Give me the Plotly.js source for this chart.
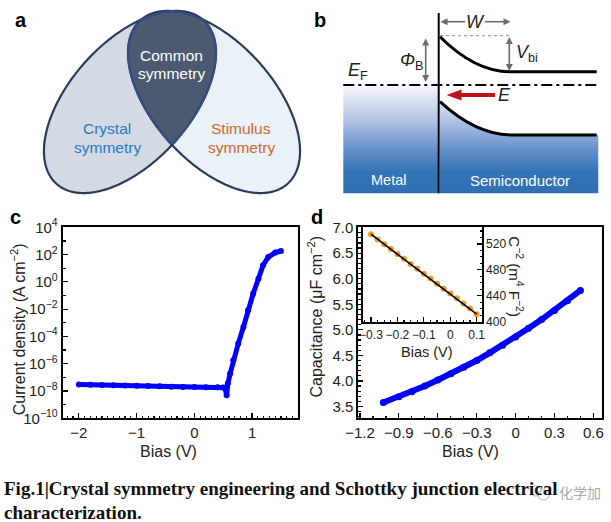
<!DOCTYPE html>
<html><head><meta charset="utf-8">
<script src="https://cdn.plot.ly/plotly-3.0.1.min.js"></script>
<style>html,body{margin:0;padding:0;background:#fff}#chart{width:611px;height:522px}</style>
</head><body><div id="chart"></div>
<script>
// ---------- Panel c : current density vs bias ----------
const jvBias = [-2.0,-1.8,-1.6,-1.4,-1.2,-1.0,-0.8,-0.6,-0.4,-0.2,0.0,0.2,0.4,0.5,0.53,0.56,0.58,0.62,0.675,0.76,0.85,0.93,1.02,1.11,1.19,1.28,1.40,1.50];
const jvDensity = [3.0e-8,2.9e-8,2.75e-8,2.6e-8,2.5e-8,2.4e-8,2.3e-8,2.2e-8,2.05e-8,2.0e-8,1.95e-8,1.9e-8,1.85e-8,1.8e-8,1.75e-8,4.8e-9,3.5e-8,1.9e-7,1.8e-6,3.0e-5,5.0e-4,8.3e-3,0.14,1.7,16.6,66,141,182];
const jTickVals = [1e-10,1e-8,1e-6,1e-4,1e-2,1,1e2,1e4];
const jTickText = ['10<sup>−10</sup>','10<sup>−8</sup>','10<sup>−6</sup>','10<sup>−4</sup>','10<sup>−2</sup>','10<sup>0</sup>','10<sup>2</sup>','10<sup>4</sup>'];
const jMinorVals = [1e-9,1e-7,1e-5,1e-3,1e-1,1e1,1e3];

// ---------- Panel d : capacitance vs bias ----------
const cvBias = [-1.02,-0.9,-0.8,-0.7,-0.6,-0.5,-0.4,-0.3,-0.2,-0.1,0.0,0.1,0.2,0.3,0.4,0.5];
const cvCap  = [3.58,3.69,3.79,3.90,4.02,4.14,4.27,4.40,4.55,4.70,4.86,5.03,5.20,5.38,5.57,5.77];

// ---------- Inset : C^-2 vs bias ----------
const mottBias = [-0.3,-0.275,-0.25,-0.225,-0.2,-0.175,-0.15,-0.125,-0.1,-0.075,-0.05,-0.025,0.0,0.025,0.05,0.075,0.1];
const mottInvC2 = [535,527,519.5,512,504.5,497,489,481.5,474,466.5,458.5,451,443.5,436,428,420.5,411.5];
const fitBias = [-0.3, 0.1];
const fitInvC2 = [535, 411.5];

// ---------- page geometry helpers (pixels -> paper) ----------
const W = 611, H = 522;
const px = v => v / W;
const py = v => 1 - v / H;
const FONT = 'Liberation Sans, Arial, Helvetica, sans-serif';

// ---------- panel a geometry ----------
function ellipsePts(cx, cy, a, b, deg, n) {
  const t = deg * Math.PI / 180, pts = [];
  for (let i = 0; i < n; i++) {
    const s = 2 * Math.PI * i / n, p = a * Math.cos(s), q = b * Math.sin(s);
    pts.push([cx + p * Math.cos(t) - q * Math.sin(t), cy - (p * Math.sin(t) + q * Math.cos(t))]);
  }
  return pts;
}
function insideEll(pt, e) {
  const t = e.deg * Math.PI / 180, X = pt[0] - e.cx, Y = -(pt[1] - e.cy);
  const p = X * Math.cos(t) + Y * Math.sin(t), q = -X * Math.sin(t) + Y * Math.cos(t);
  return p * p / (e.a * e.a) + q * q / (e.b * e.b) <= 1;
}
const toPath = pts => 'M' + pts.map(p => p[0].toFixed(2) + ',' + p[1].toFixed(2)).join(' L') + ' Z';
const ellL = {cx: 130, cy: 102, a: 110, b: 60, deg: 48};
const ellR = {cx: 214, cy: 102, a: 110, b: 60, deg: 132};
const ptsL = ellipsePts(ellL.cx, ellL.cy, ellL.a, ellL.b, ellL.deg, 360);
const ptsR = ellipsePts(ellR.cx, ellR.cy, ellR.a, ellR.b, ellR.deg, 360);
let lens = ptsL.filter(p => insideEll(p, ellR)).concat(ptsR.filter(p => insideEll(p, ellL)));
const lc = lens.reduce((s, p) => [s[0] + p[0] / lens.length, s[1] + p[1] / lens.length], [0, 0]);
lens.sort((u, v) => Math.atan2(u[1] - lc[1], u[0] - lc[0]) - Math.atan2(v[1] - lc[1], v[0] - lc[0]));

// ---------- panel b geometry ----------
function quadPts(p0, p1, p2, n) {
  const out = [];
  for (let i = 0; i <= n; i++) {
    const t = i / n, u = 1 - t;
    out.push([u*u*p0[0] + 2*u*t*p1[0] + t*t*p2[0], u*u*p0[1] + 2*u*t*p1[1] + t*t*p2[1]]);
  }
  return out;
}
const ifaceX = 438.7, bTop = 85, bBot = 193.3, bLeft = 343.3, bRight = 598.3;
const lowBand = quadPts([440, 101.7], [476, 135], [512, 135], 30);
const semiPoly = lowBand.concat([[bRight, 135], [bRight, bBot], [440, bBot]]);
const blueScale = [[0, '#f6f8fc'], [0.3, '#b7c8e7'], [0.62, '#5f8cc8'], [0.8, '#3574b7'], [1, '#2f6fb2']];

const traces = [
  {type: 'scatter', mode: 'lines', xaxis: 'x4', yaxis: 'y4', hoverinfo: 'skip', showlegend: false,
   x: [bLeft, ifaceX, ifaceX, bLeft], y: [bTop, bTop, bBot, bBot], fill: 'toself', line: {width: 0},
   fillgradient: {type: 'vertical', colorscale: blueScale, start: bTop, stop: bBot}},
  {type: 'scatter', mode: 'lines', xaxis: 'x4', yaxis: 'y4', hoverinfo: 'skip', showlegend: false,
   x: semiPoly.map(p => p[0]), y: semiPoly.map(p => p[1]), fill: 'toself', line: {width: 0},
   fillgradient: {type: 'vertical', colorscale: blueScale, start: bTop, stop: bBot}},
  {type: 'scatter', mode: 'lines+markers', x: jvBias, y: jvDensity, xaxis: 'x', yaxis: 'y',
   line: {color: '#0000ff', width: 5}, marker: {color: '#0000ff', size: 6}, showlegend: false, cliponaxis: false},
  {type: 'scatter', mode: 'lines+markers', x: cvBias, y: cvCap, xaxis: 'x2', yaxis: 'y2',
   line: {color: '#0000ff', width: 6}, marker: {color: '#0000ff', size: 7}, showlegend: false, cliponaxis: false},
  {type: 'scatter', mode: 'markers', x: mottBias, y: mottInvC2, xaxis: 'x3', yaxis: 'y3',
   marker: {color: '#f39a2e', size: 6}, showlegend: false, cliponaxis: false},
  {type: 'scatter', mode: 'lines', x: fitBias, y: fitInvC2, xaxis: 'x3', yaxis: 'y3',
   line: {color: '#000', width: 1.6}, showlegend: false, cliponaxis: false}
];

const shapes = [];
const S = (o) => shapes.push(Object.assign({xref: 'x4', yref: 'y4'}, o));
// arrow drawn as a shaft line plus a filled triangular head
function arrow(x0, y0, x1, y1, color, width, hl, hw, both) {
  const L = Math.hypot(x1 - x0, y1 - y0), ux = (x1 - x0) / L, uy = (y1 - y0) / L;
  const head = (tx, ty, dx, dy) => {
    const bx = tx - dx * hl, by = ty - dy * hl;
    S({type: 'path', path: `M${tx},${ty} L${bx - dy * hw / 2},${by + dx * hw / 2} L${bx + dy * hw / 2},${by - dx * hw / 2} Z`,
       fillcolor: color, line: {width: 0}});
  };
  const sx = both ? x0 + ux * hl * 0.8 : x0, sy = both ? y0 + uy * hl * 0.8 : y0;
  S({type: 'line', x0: sx, y0: sy, x1: x1 - ux * hl * 0.8, y1: y1 - uy * hl * 0.8, line: {color: color, width: width}});
  head(x1, y1, ux, uy);
  if (both) head(x0, y0, -ux, -uy);
}
// panel a
S({type: 'path', path: toPath(ptsL), fillcolor: '#d3dae3', line: {width: 0}});
S({type: 'path', path: toPath(ptsR), fillcolor: '#ebf1f8', line: {width: 0}});
S({type: 'path', path: toPath(lens), fillcolor: '#4b5a71', line: {width: 0}});
S({type: 'path', path: toPath(ptsL), line: {color: '#2b3b5a', width: 2.2}});
S({type: 'path', path: toPath(ptsR), line: {color: '#2b3b5a', width: 2.2}});
S({type: 'path', path: toPath(lens), line: {color: '#33508c', width: 1.6}});
// panel b
S({type: 'line', x0: 440, x1: 510, y0: 35.7, y1: 35.7, line: {color: '#8a8a8a', width: 1, dash: 'dot'}});
S({type: 'path', path: 'M440,36.7 Q475,71.7 510,71.7 L596.7,71.7', line: {color: '#000', width: 3}});
S({type: 'path', path: 'M440,101.7 Q476,135 512,135 L596.7,135', line: {color: '#000', width: 3}});
S({type: 'line', x0: bLeft, x1: bRight, y0: bTop, y1: bTop, line: {color: '#000', width: 2, dash: '11px,4px,3px,4px'}});
S({type: 'line', x0: ifaceX, x1: ifaceX, y0: 13, y1: bBot, line: {color: '#000', width: 2}});
const GRAY = '#6b6b6b';
arrow(465, 21.7, 440.5, 21.7, GRAY, 1.6, 7, 7, false);
arrow(485, 21.7, 510.5, 21.7, GRAY, 1.6, 7, 7, false);
arrow(509.3, 37, 509.3, 71, GRAY, 1.6, 7, 7, true);
arrow(425.7, 38.5, 425.7, 82, GRAY, 1.6, 7, 7, true);
arrow(495, 95, 446.5, 95, '#c0121a', 4, 15, 11, false);

const ann = [];
const T = (x, y, text, o) => ann.push(Object.assign({xref: 'x4', yref: 'y4', x, y, text, showarrow: false,
  font: {family: FONT, size: 16, color: '#222'}}, o || {}));
const bold = {family: 'Liberation Sans, Arial, sans-serif', size: 20, color: '#000'};
T(21, 20, '<b>a</b>', {font: bold});
T(320, 20, '<b>b</b>', {font: bold});
T(15, 217, '<b>c</b>', {font: bold});
T(317, 217, '<b>d</b>', {font: bold});
// panel a texts
const fa = c => ({font: {family: FONT, size: 15.5, color: c}});
T(171, 55, 'Common', fa('#fff'));
T(171, 73, 'symmetry', fa('#fff'));
T(107, 128, 'Crystal', fa('#2a78c8'));
T(107, 147, 'symmetry', fa('#2a78c8'));
T(241, 128, 'Stimulus', fa('#d2672a'));
T(241, 147, 'symmetry', fa('#d2672a'));
// panel b texts
const fb = {font: {family: FONT, size: 18, color: '#222'}};
T(475, 21.7, '<i>W</i>', fb);
T(527, 53, '<i>V</i><sub>bi</sub>', fb);
T(411, 61, '<i>Φ</i><sub>B</sub>', fb);
T(358, 71, '<i>E</i><sub>F</sub>', fb);
T(504, 95, '<i>E</i>', fb);
T(388.3, 180, 'Metal', {font: {family: FONT, size: 14.5, color: '#fff'}});
T(520, 180, 'Semiconductor', {font: {family: FONT, size: 15, color: '#fff'}});
// axis titles
const ft = {font: {family: FONT, size: 16, color: '#222'}};
T(168.3, 451.7, 'Bias (V)', ft);
T(18.3, 329, 'Current density (A cm<sup>−2</sup>)', Object.assign({textangle: -90}, ft));
T(470, 451.7, 'Bias (V)', ft);
T(315, 316.5, 'Capacitance (μF cm<sup>−2</sup>)', Object.assign({textangle: -90}, ft));
T(426.7, 351.5, 'Bias (V)', {font: {family: FONT, size: 14.5, color: '#222'}});
T(516.7, 277, 'C<sup>−2</sup> (m<sup>4</sup> F<sup>−2</sup>)', {textangle: 90, font: {family: FONT, size: 15, color: '#222'}});
// caption + watermark
const fc = {font: {family: 'Liberation Serif, serif', size: 19, color: '#111'}};
T(2, 488, '<b>Fig.1|Crystal symmetry engineering and Schottky junction electrical</b>', Object.assign({xanchor: 'left'}, fc));
T(2, 512, '<b>characterization.</b>', Object.assign({xanchor: 'left'}, fc));
T(580, 492, '化学加', {font: {family: 'Noto Sans CJK SC, sans-serif', size: 14, color: '#a8a8a8'}});
S({type: 'circle', x0: 530, x1: 541, y0: 486, y1: 496, line: {color: '#b5b5b5', width: 1}});
S({type: 'circle', x0: 538, x1: 549, y0: 490, y1: 500, line: {color: '#b5b5b5', width: 1}});

const axBase = {showline: true, linecolor: '#000', linewidth: 2, mirror: true, ticks: 'inside', tickcolor: '#000',
  ticklen: 5, tickwidth: 1.2, showgrid: false, zeroline: false, fixedrange: true,
  tickfont: {family: FONT, size: 15, color: '#222'}};
const inTick = {family: FONT, size: 12, color: '#222'};

const layout = {
  width: W, height: H, margin: {l: 0, r: 0, t: 0, b: 0}, paper_bgcolor: '#fff', plot_bgcolor: 'rgba(0,0,0,0)',
  showlegend: false,
  xaxis: Object.assign({}, axBase, {domain: [px(62.7), px(297.7)], range: [-2.28, 1.79], dtick: 1, tick0: 0, anchor: 'y',
    minor: {ticks: 'inside', dtick: 0.1, ticklen: 2.5, tickcolor: '#000'}}),
  yaxis: Object.assign({}, axBase, {domain: [py(418.3), py(227.3)], type: 'log', range: [-10, 4], anchor: 'x',
    tickmode: 'array', tickvals: jTickVals, ticktext: jTickText,
    minor: {ticks: 'inside', tickmode: 'array', tickvals: jMinorVals, ticklen: 3, tickcolor: '#000'}}),
  xaxis2: Object.assign({}, axBase, {domain: [px(358.3), px(601.7)], range: [-1.213, 0.664], dtick: 0.3, tick0: 0, anchor: 'y2',
    minor: {ticks: 'inside', dtick: 0.1, ticklen: 2.5, tickcolor: '#000'}}),
  yaxis2: Object.assign({}, axBase, {domain: [py(418.3), py(227.3)], range: [3.27, 7.005], dtick: 0.5, tick0: 0, tickformat: '.1f', anchor: 'x2',
    minor: {ticks: 'inside', dtick: 0.1, ticklen: 2.5, tickcolor: '#000'}}),
  xaxis3: Object.assign({}, axBase, {domain: [px(363.3), px(481.7)], range: [-0.329, 0.119], dtick: 0.1, tick0: 0, anchor: 'y3',
    tickangle: 0, tickfont: inTick, minor: {ticks: 'inside', dtick: 0.025, ticklen: 2, tickcolor: '#000'}}),
  yaxis3: Object.assign({}, axBase, {domain: [py(322.3), py(227.3)], range: [399, 545.7], dtick: 40, tick0: 400, side: 'right', anchor: 'x3',
    tickfont: inTick, minor: {ticks: 'inside', dtick: 10, ticklen: 2, tickcolor: '#000'}}),
  xaxis4: {domain: [0, 1], range: [0, W], visible: false, fixedrange: true, anchor: 'y4'},
  yaxis4: {domain: [0, 1], range: [H, 0], visible: false, fixedrange: true, anchor: 'x4'},
  shapes: shapes,
  annotations: ann
};

Plotly.newPlot('chart', traces, layout, {displayModeBar: false, staticPlot: true});
</script></body></html>
